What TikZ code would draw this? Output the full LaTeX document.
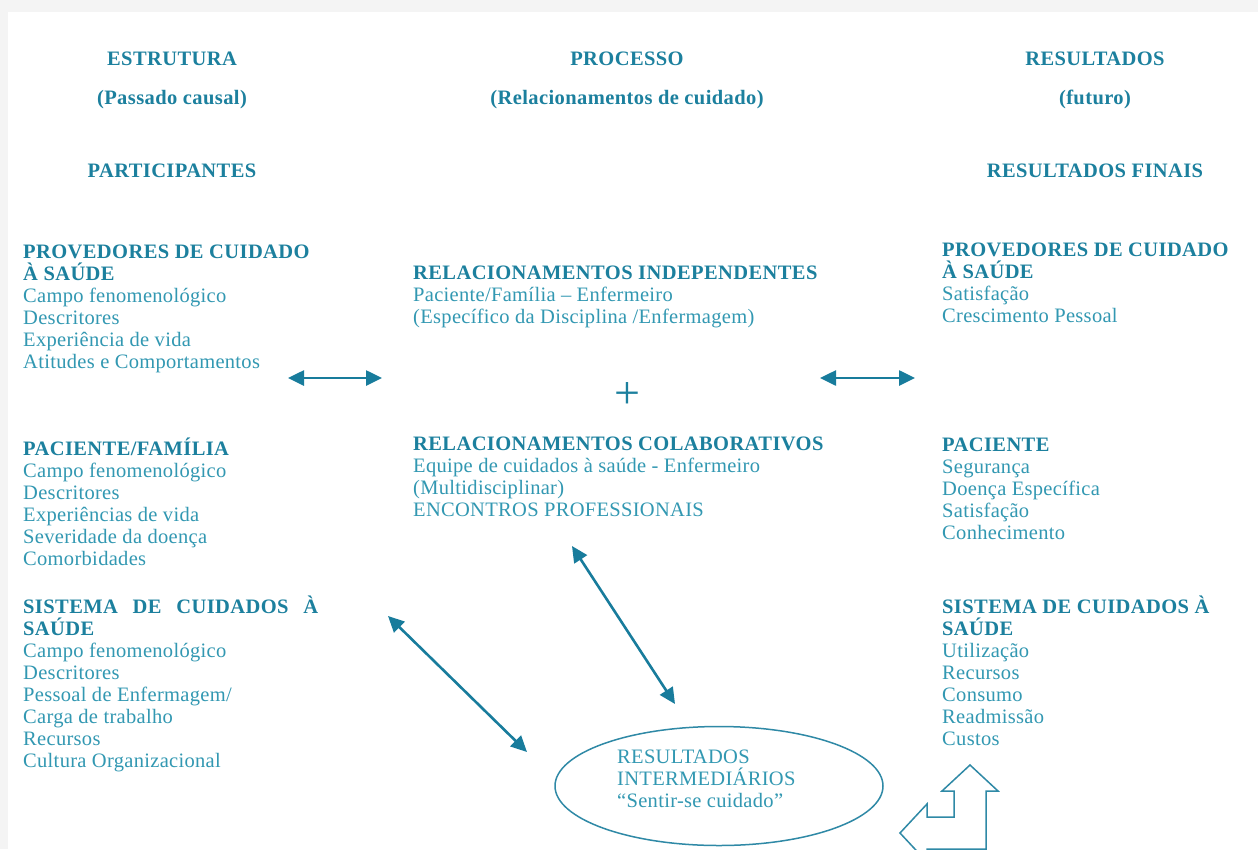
\documentclass[tikz,border=0pt]{standalone}
\usepackage{fontspec}
\setmainfont{Liberation Serif}
\newfontfamily\headfont{Liberation Serif}[LetterSpace=2]
\newfontfamily\bodyfont{Liberation Serif}[LetterSpace=1.5]
\usetikzlibrary{arrows.meta, shapes.geometric, positioning}
\definecolor{headteal}{RGB}{28,128,158}
\definecolor{bodyteal}{RGB}{50,152,178}
\definecolor{arrowteal}{RGB}{24,124,156}
\newcommand{\blocktitle}[1]{{\headfont\bfseries\color{headteal}#1}}
\tikzset{
    head/.style={font=\headfont\bfseries\fontsize{20.5}{22}\selectfont, text=headteal, inner sep=0pt, anchor=base},
    block/.style={font=\bodyfont\fontsize{20.5}{22}\selectfont, text=bodyteal, align=left, inner sep=0pt, anchor=north west, execute at begin node=\strut},
    link/.style={draw=arrowteal, line width=2.6pt, {Triangle[length=16pt,width=15pt]}-{Triangle[length=16pt,width=15pt]}},
}

\begin{document}
\begin{tikzpicture}[x=1pt, y=-1pt]
                \useasboundingbox (0,0) rectangle (1258,849);
                \fill[gray!9] (0,0) rectangle (1258,849);
                \fill[white] (8,12) rectangle (1258,849);

                \node[head] (estr) at (172,65) {ESTRUTURA};
                \node[head] (passado) at (172,104) {(Passado causal)};
                \node[head] (partic) at (172,177) {PARTICIPANTES};
                \node[head] (proc) at (627,65) {PROCESSO};
                \node[head] (relac) at (627,104) {(Relacionamentos de cuidado)};
                \node[head] (result) at (1095,65) {RESULTADOS};
                \node[head] (futuro) at (1095,104) {(futuro)};
                \node[head] (finais) at (1095,177) {RESULTADOS FINAIS};

                \node[block] (provL) at (23,244.6) {\blocktitle{PROVEDORES DE CUIDADO}\\\blocktitle{À SAÚDE}\\Campo fenomenológico\\Descritores\\Experiência de vida\\Atitudes e Comportamentos};
                \node[block] (pacL) at (23,437.6) {\blocktitle{PACIENTE/FAMÍLIA}\\Campo fenomenológico\\Descritores\\Experiências de vida\\Severidade da doença\\Comorbidades};
                \node[block] (sisL) at (23,595.6) {\blocktitle{\makebox[295pt][s]{SISTEMA DE CUIDADOS À}}\\\blocktitle{SAÚDE}\\Campo fenomenológico\\Descritores\\Pessoal de Enfermagem/\\Carga de trabalho\\Recursos\\Cultura Organizacional};

                \node[block] (indep) at (413,265.6) {\blocktitle{RELACIONAMENTOS INDEPENDENTES}\\Paciente/Família – Enfermeiro\\(Específico da Disciplina /Enfermagem)};
                \node[text=headteal, inner sep=0pt] (plus) at (627,395) {\fontsize{46}{46}\selectfont +};
                \node[block] (colab) at (413,436.6) {\blocktitle{RELACIONAMENTOS COLABORATIVOS}\\Equipe de cuidados à saúde - Enfermeiro\\(Multidisciplinar)\\ENCONTROS PROFESSIONAIS};

                \node[block] (provR) at (942,242.6) {\blocktitle{PROVEDORES DE CUIDADO}\\\blocktitle{À SAÚDE}\\Satisfação\\Crescimento Pessoal};
                \node[block] (pacR) at (942,437.6) {\blocktitle{PACIENTE}\\Segurança\\Doença Específica\\Satisfação\\Conhecimento};
                \node[block] (sisR) at (942,595.6) {\blocktitle{SISTEMA DE CUIDADOS À}\\\blocktitle{SAÚDE}\\Utilização\\Recursos\\Consumo\\Readmissão\\Custos};

                \node[ellipse, draw=arrowteal!90, line width=1.5pt, minimum width=328pt, minimum height=119pt, inner sep=0pt] (inter) at (719,786) {};
                \node[block] (intertext) at (617,749.6) {RESULTADOS\\INTERMEDIÁRIOS\\“Sentir-se cuidado”};

                \coordinate (l1) at (288,378);
                \coordinate (l2) at (382,378);
                \coordinate (r1) at (820,378);
                \coordinate (r2) at (915,378);
                \coordinate (d1) at (388,616);
                \coordinate (d2) at (527,752);
                \coordinate (c1) at (572,546);
                \coordinate (c2) at (675,704);

                \draw[link] (l1) -- (l2);
                \draw[link] (r1) -- (r2);
                \draw[link] (d1) -- (d2);
                \draw[link] (c1) -- (c2);

                \draw[arrowteal!90, line width=1.5pt, line join=miter]
                    (970,765) -- (998,791) -- (986,791) -- (986,849) -- (927,849) -- (927,862)
                    -- (900,833) -- (927,804) -- (927,817) -- (954,817) -- (954,791) -- (942,791) -- cycle;
            \end{tikzpicture}
\end{document}
